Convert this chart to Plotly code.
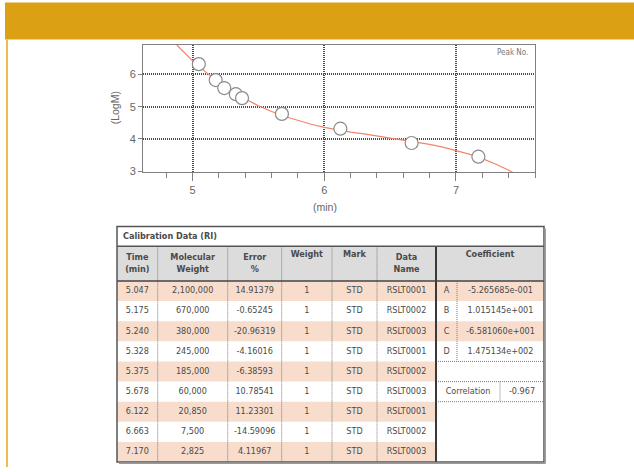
import plotly.graph_objects as go
import numpy as np

W, H = 634, 472

# ---------------- data ----------------
time_min = [5.047, 5.175, 5.240, 5.328, 5.375, 5.678, 6.122, 6.663, 7.170]
mol_weight = [2100000, 670000, 380000, 245000, 185000, 60000, 20850, 7500, 2825]
error_pct = ["14.91379", "-0.65245", "-20.96319", "-4.16016", "-6.38593",
             "10.78541", "11.23301", "-14.59096", "4.11967"]
weight = [1, 1, 1, 1, 1, 1, 1, 1, 1]
mark = ["STD"] * 9
data_name = ["RSLT0001", "RSLT0002", "RSLT0003", "RSLT0001", "RSLT0002",
             "RSLT0003", "RSLT0001", "RSLT0002", "RSLT0003"]
coef_names = ["A", "B", "C", "D"]
coef_values = ["-5.265685e-001", "1.015145e+001", "-6.581060e+001", "1.475134e+002"]
correlation = "-0.967"

# calibration curve
curve_time = [4.88, 4.9, 5.0, 5.1, 5.2, 5.3, 5.4, 5.5, 5.6, 5.7, 5.8, 5.9, 6.0, 6.1,
              6.2, 6.3, 6.4, 6.5, 6.6, 6.7, 6.8, 6.9, 7.0, 7.1, 7.2, 7.3, 7.4, 7.45]
curve_logm = [6.915, 6.828, 6.425, 6.073, 5.754, 5.478, 5.237, 5.029, 4.850, 4.698,
              4.568, 4.457, 4.362, 4.282, 4.213, 4.160, 4.099, 4.034, 3.973, 3.908,
              3.834, 3.748, 3.647, 3.529, 3.388, 3.224, 3.031, 2.920]

x_ticks = [5, 6, 7]
y_ticks = [3, 4, 5, 6]

header_labels = ["<b>Time<br>(min)</b>", "<b>Molecular<br>Weight</b>", "<b>Error<br>%</b>",
                 "<b>Weight</b>", "<b>Mark</b>", "<b>Data<br>Name</b>"]
header_two_line = [True, True, True, False, False, True]

# ---------------- layout geometry (pixels) ----------------
PLOT_L, PLOT_R, PLOT_T, PLOT_B = 143, 535, 45, 174
TBL_L, TBL_R, TBL_T, TBL_B = 117, 544, 229, 467
TITLE_B, HEAD_B = 249, 284
col_edges = [117, 157.7, 227.7, 281.7, 332, 377, 436]
coef_edges = [436, 457, 544]
corr_split = 500
n_rows = len(time_min)
row_h = (TBL_B - HEAD_B) / n_rows

FONT = "Liberation Sans Narrow, Arial Narrow, DejaVu Sans Condensed, sans-serif"
TXT = "#4a4a4a"
STRIPE = "#F8DDCD"
HEADER_FILL = "#DCDCDC"
SEP = "#7a7a7a"
HALFTONE = "1px,1px"

fig = go.Figure()

# calibration curve and points
fig.add_trace(go.Scatter(x=curve_time, y=curve_logm, mode="lines",
                         line=dict(color="#F2846A", width=1.2),
                         hoverinfo="skip", showlegend=False, xaxis="x", yaxis="y"))
fig.add_trace(go.Scatter(x=time_min, y=list(np.log10(mol_weight)), mode="markers",
                         marker=dict(symbol="circle", size=13, color="white",
                                     line=dict(color="#8a8a8a", width=1.2)),
                         showlegend=False, xaxis="x", yaxis="y"))

# ---------------- table (drawn on a pixel overlay axis) ----------------
shapes = []
def rect(x0, x1, y0, y1, fill, layer="below"):
    shapes.append(dict(type="rect", xref="x2", yref="y2", x0=x0, x1=x1, y0=y0, y1=y1,
                       fillcolor=fill, line=dict(width=0), layer=layer))
def hline(x0, x1, y, color, width=1, dash="solid"):
    shapes.append(dict(type="line", xref="x2", yref="y2", x0=x0, x1=x1, y0=y, y1=y,
                       line=dict(color=color, width=width, dash=dash)))
def vline(x, y0, y1, color, width=1, dash="solid"):
    shapes.append(dict(type="line", xref="x2", yref="y2", x0=x, x1=x, y0=y0, y1=y1,
                       line=dict(color=color, width=width, dash=dash)))

# page decoration
rect(5, W, 2.5, 40, "#DCA014")
rect(6, 8, 40, H, "#EDBB4E")

# header fill
rect(TBL_L, TBL_R, TITLE_B, HEAD_B, HEADER_FILL)
# stripes
for i in range(n_rows):
    if i % 2 == 0:
        y0 = HEAD_B + i * row_h
        rect(col_edges[0], col_edges[-1], y0, y0 + row_h, STRIPE)
        if i < len(coef_names):
            rect(coef_edges[0], coef_edges[-1], y0, y0 + row_h, STRIPE)

# vertical dotted separators
for xe in col_edges[1:-1]:
    vline(xe, TITLE_B, TBL_B, SEP, 1, HALFTONE)
vline(coef_edges[1], HEAD_B, HEAD_B + 4 * row_h, SEP, 1, HALFTONE)
vline(corr_split, HEAD_B + 5 * row_h, HEAD_B + 6 * row_h, SEP, 1, HALFTONE)
# right block horizontals
for k in (4, 5, 6):
    hline(coef_edges[0], coef_edges[-1], HEAD_B + k * row_h, SEP, 1, HALFTONE)
# thick divider
vline(col_edges[-1], TITLE_B, TBL_B, "#3a3a3a", 2)
# title / header bottoms
hline(TBL_L, TBL_R, TITLE_B, "#555", 1.5)
hline(TBL_L, TBL_R, HEAD_B, "#444", 1.5)
# outer border + shadow
shapes.append(dict(type="rect", xref="x2", yref="y2", x0=TBL_L, x1=TBL_R, y0=TBL_T, y1=TBL_B,
                   line=dict(color="#555", width=1.5), fillcolor="rgba(0,0,0,0)"))
hline(TBL_L + 2, TBL_R + 1.5, TBL_B + 1.2, "#999", 1.5)
vline(TBL_R + 1.2, TBL_T + 2, TBL_B + 1.5, "#999", 1.5)

# table text
tx, ty, tt = [], [], []
centers = [(col_edges[j] + col_edges[j + 1]) / 2 for j in range(len(col_edges) - 1)]
for j, lab in enumerate(header_labels):
    tx.append(centers[j])
    ty.append((TITLE_B + HEAD_B) / 2 if header_two_line[j] else TITLE_B + 8.5)
    tt.append(lab)
tx.append((coef_edges[0] + coef_edges[-1]) / 2); ty.append(TITLE_B + 8.5); tt.append("<b>Coefficient</b>")
columns = [["%.3f" % v for v in time_min], ["{:,}".format(v) for v in mol_weight],
           error_pct, [str(v) for v in weight], mark, data_name]
for i in range(n_rows):
    yc = HEAD_B + (i + 0.5) * row_h
    for j, col in enumerate(columns):
        tx.append(centers[j]); ty.append(yc); tt.append(col[i])
for i, (nm, val) in enumerate(zip(coef_names, coef_values)):
    yc = HEAD_B + (i + 0.5) * row_h
    tx.append((coef_edges[0] + coef_edges[1]) / 2); ty.append(yc); tt.append(nm)
    tx.append((coef_edges[1] + coef_edges[2]) / 2); ty.append(yc); tt.append(val)
yc = HEAD_B + 5.5 * row_h
tx.append((coef_edges[0] + corr_split) / 2); ty.append(yc); tt.append("Correlation")
tx.append((corr_split + coef_edges[2]) / 2); ty.append(yc); tt.append(correlation)

fig.add_trace(go.Scatter(x=tx, y=ty, text=tt, mode="text", textposition="middle center",
                         textfont=dict(family=FONT, size=9, color=TXT),
                         hoverinfo="skip", showlegend=False, xaxis="x2", yaxis="y2"))

annotations = [
    dict(x=TBL_L + 4, y=(TBL_T + TITLE_B) / 2, xref="x2", yref="y2", text="<b>Calibration Data (RI)</b>",
         showarrow=False, xanchor="left", yanchor="middle",
         font=dict(family=FONT, size=9, color=TXT)),
    dict(x=115, y=(PLOT_T + PLOT_B) / 2, xref="x2", yref="y2", text="(LogM)", textangle=-90,
         showarrow=False, xanchor="center", yanchor="middle",
         font=dict(family="Liberation Sans, Arial, sans-serif", size=10.5, color="#666")),
    dict(x=325, y=209, xref="x2", yref="y2", text="(min)",
         showarrow=False, xanchor="center", yanchor="middle",
         font=dict(family="Liberation Sans, Arial, sans-serif", size=10.5, color="#666")),
    dict(x=530, y=53, xref="x2", yref="y2", text="Peak No.",
         showarrow=False, xanchor="right", yanchor="middle",
         font=dict(family=FONT, size=8, color="#777")),
]

axis_common = dict(showline=True, linecolor="#808080", linewidth=1, mirror=True,
                   showgrid=True, gridcolor="#4a4a4a", gridwidth=1.5, griddash=HALFTONE,
                   zeroline=False, ticks="outside", tickcolor="#808080",
                   tickfont=dict(family="Liberation Sans, Arial, sans-serif", size=11, color="#666"),
                   fixedrange=True)

fig.update_layout(
    width=W, height=H,
    margin=dict(l=0, r=0, t=0, b=0),
    paper_bgcolor="white", plot_bgcolor="rgba(0,0,0,0)",
    showlegend=False,
    hovermode=False,
    xaxis=dict(domain=[PLOT_L / W, PLOT_R / W], range=[4.623, 7.6], tickvals=x_ticks,
               anchor="y", ticklen=8,
               minor=dict(dtick=0.2, tick0=0, ticks="outside", ticklen=5, tickcolor="#808080",
                          showgrid=False),
               **axis_common),
    yaxis=dict(domain=[1 - PLOT_B / H, 1 - PLOT_T / H], range=[2.97, 6.93], tickvals=y_ticks,
               anchor="x", ticklen=4, **axis_common),
    xaxis2=dict(domain=[0, 1], range=[0, W], visible=False, anchor="y2", fixedrange=True),
    yaxis2=dict(domain=[0, 1], range=[H, 0], visible=False, anchor="x2", fixedrange=True),
    shapes=shapes,
    annotations=annotations,
)

fig.write_html("out.html", config={"displayModeBar": False},
               post_script="document.body.style.margin='0px';document.body.style.overflow='hidden';")
